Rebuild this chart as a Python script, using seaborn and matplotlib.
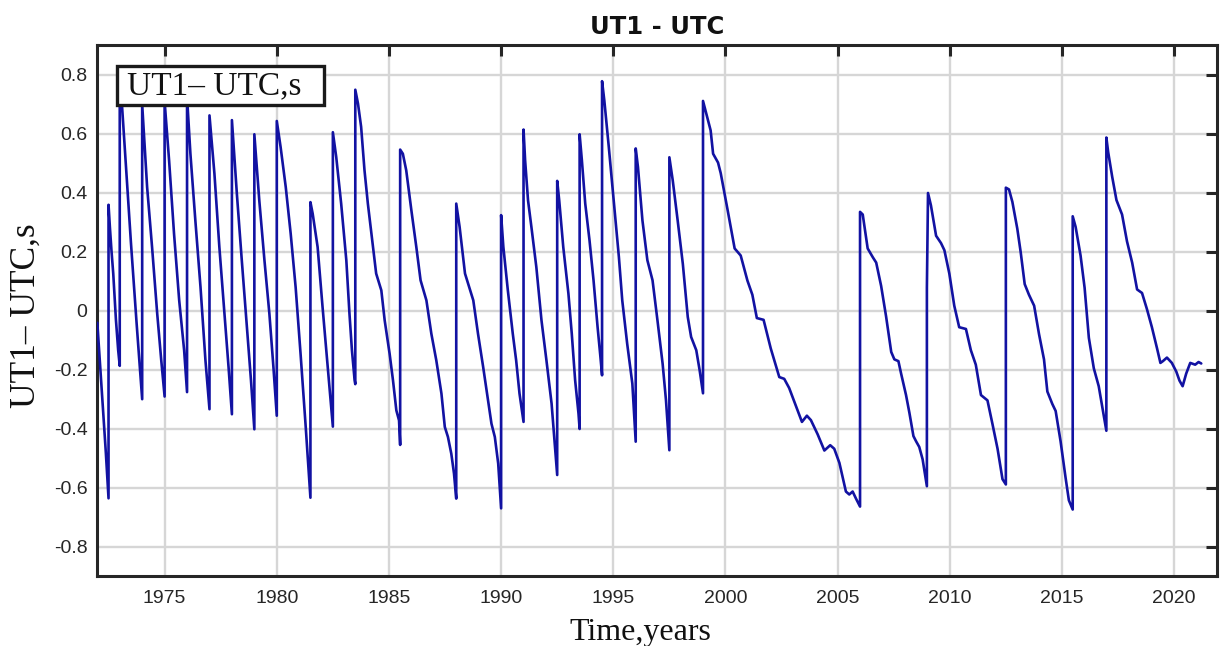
import matplotlib
matplotlib.use("Agg")
import matplotlib.pyplot as plt
from matplotlib.patches import Rectangle
import pandas as pd
import seaborn as sns

# ---- data (decimal year, UT1-UTC in seconds) ----
years = [
    1972.00, 1972.12, 1972.25, 1972.38, 1972.50,
    1972.50, 1972.56, 1972.63, 1972.71, 1972.83, 1972.93, 1973.00,
    1973.00, 1973.25, 1973.50, 1973.75, 1974.00,
    1974.00, 1974.22, 1974.44, 1974.67, 1974.85, 1975.00,
    1975.00, 1975.20, 1975.42, 1975.65, 1975.87, 1976.00,
    1976.00, 1976.15, 1976.37, 1976.60, 1976.82, 1977.00,
    1977.00, 1977.22, 1977.44, 1977.67, 1977.85, 1978.00,
    1978.00, 1978.22, 1978.44, 1978.67, 1978.85, 1979.00,
    1979.00, 1979.22, 1979.45, 1979.67, 1979.85, 1980.00,
    1980.00, 1980.17, 1980.40, 1980.62, 1980.84, 1981.06, 1981.29, 1981.50,
    1981.50, 1981.60, 1981.82, 1982.04, 1982.27, 1982.50,
    1982.50, 1982.65, 1982.87, 1983.10, 1983.24, 1983.35, 1983.47, 1983.50,
    1983.50, 1983.62, 1983.76, 1983.91, 1984.06, 1984.29, 1984.43, 1984.66,
    1984.81, 1985.03, 1985.18, 1985.33, 1985.45, 1985.50,
    1985.50, 1985.62, 1985.77, 1986.00, 1986.22, 1986.41, 1986.67, 1986.89,
    1987.11, 1987.34, 1987.49, 1987.63, 1987.78, 1987.90, 1988.00,
    1988.00, 1988.15, 1988.39, 1988.53, 1988.76, 1988.97, 1989.20, 1989.42,
    1989.57, 1989.72, 1989.87, 1989.94, 1990.00,
    1990.00, 1990.10, 1990.30, 1990.52, 1990.67, 1990.82, 1991.00,
    1991.00, 1991.07, 1991.20, 1991.35, 1991.57, 1991.80, 1992.02, 1992.25,
    1992.40, 1992.50,
    1992.50, 1992.59, 1992.77, 1993.00, 1993.15, 1993.30, 1993.45, 1993.50,
    1993.50, 1993.60, 1993.75, 1993.94, 1994.12, 1994.30, 1994.42, 1994.50,
    1994.50, 1994.60, 1994.80, 1995.02, 1995.25, 1995.40, 1995.62, 1995.85,
    1995.93, 1996.00,
    1996.00, 1996.10, 1996.30, 1996.52, 1996.75, 1996.97, 1997.20, 1997.35,
    1997.50,
    1997.50, 1997.65, 1997.87, 1998.10, 1998.32, 1998.47, 1998.70, 1998.85,
    1999.00,
    1999.00, 1999.34, 1999.45, 1999.67, 1999.79, 2000.09, 2000.41, 2000.68,
    2000.98, 2001.20, 2001.40, 2001.70, 2002.02, 2002.40, 2002.62, 2002.84,
    2003.14, 2003.41, 2003.63, 2003.81, 2004.11, 2004.41, 2004.67, 2004.85,
    2005.08, 2005.37, 2005.52, 2005.67, 2005.82, 2006.00,
    2006.00, 2006.12, 2006.34, 2006.57, 2006.72, 2006.94, 2007.16, 2007.39,
    2007.53, 2007.71, 2007.83, 2008.05, 2008.20, 2008.38, 2008.50, 2008.64,
    2008.79, 2008.94, 2008.98,
    2008.98, 2009.03, 2009.16, 2009.39, 2009.61, 2009.76, 2009.98, 2010.20,
    2010.42, 2010.72, 2010.94, 2011.16, 2011.39, 2011.68, 2011.90, 2012.13,
    2012.35, 2012.50,
    2012.50, 2012.64, 2012.79, 2013.01, 2013.16, 2013.34, 2013.53, 2013.76,
    2013.98, 2014.20, 2014.35, 2014.57, 2014.72, 2014.94, 2015.16, 2015.31,
    2015.48,
    2015.48, 2015.61, 2015.83, 2016.01, 2016.20, 2016.42, 2016.64, 2016.84,
    2016.98,
    2016.98, 2017.06, 2017.24, 2017.43, 2017.68, 2017.90, 2018.13, 2018.35,
    2018.57, 2018.79, 2019.01, 2019.24, 2019.39, 2019.50, 2019.68, 2019.90,
    2020.10, 2020.24, 2020.38, 2020.54, 2020.72, 2020.94, 2021.09, 2021.21,
]

ut1_utc = [
    -0.040, -0.180, -0.330, -0.480, -0.635,
    0.360, 0.285, 0.206, 0.127, -0.030, -0.133, -0.186,
    0.814, 0.520, 0.230, -0.040, -0.299,
    0.700, 0.420, 0.217, -0.009, -0.167, -0.290,
    0.710, 0.510, 0.262, 0.036, -0.133, -0.275,
    0.725, 0.533, 0.307, 0.081, -0.167, -0.333,
    0.663, 0.466, 0.217, -0.009, -0.190, -0.350,
    0.647, 0.398, 0.172, -0.054, -0.235, -0.401,
    0.599, 0.375, 0.172, -0.009, -0.190, -0.355,
    0.644, 0.556, 0.420, 0.262, 0.081, -0.145, -0.393, -0.633,
    0.369, 0.330, 0.217, 0.014, -0.190, -0.392,
    0.606, 0.522, 0.364, 0.172, -0.009, -0.133, -0.235, -0.248,
    0.750, 0.703, 0.624, 0.477, 0.364, 0.217, 0.127, 0.070,
    -0.032, -0.145, -0.235, -0.337, -0.371, -0.454,
    0.547, 0.533, 0.477, 0.341, 0.217, 0.104, 0.036, -0.077,
    -0.167, -0.280, -0.393, -0.427, -0.484, -0.551, -0.636,
    0.364, 0.285, 0.127, 0.093, 0.036, -0.077, -0.190, -0.303,
    -0.382, -0.427, -0.517, -0.597, -0.669,
    0.325, 0.217, 0.070, -0.077, -0.167, -0.280, -0.376,
    0.615, 0.511, 0.375, 0.285, 0.149, -0.032, -0.167, -0.314,
    -0.461, -0.556,
    0.441, 0.375, 0.217, 0.059, -0.077, -0.235, -0.348, -0.400,
    0.599, 0.511, 0.364, 0.240, 0.104, -0.054, -0.150, -0.218,
    0.779, 0.714, 0.556, 0.375, 0.183, 0.036, -0.111, -0.246,
    -0.350, -0.443,
    0.551, 0.488, 0.307, 0.172, 0.104, -0.032, -0.179, -0.303,
    -0.472,
    0.521, 0.443, 0.307, 0.160, -0.020, -0.088, -0.133, -0.201,
    -0.279,
    0.712, 0.612, 0.533, 0.503, 0.467, 0.345, 0.212, 0.188,
    0.103, 0.055, -0.024, -0.030, -0.127, -0.224, -0.230, -0.261,
    -0.321, -0.376, -0.355, -0.370, -0.418, -0.473, -0.455, -0.467,
    -0.515, -0.612, -0.622, -0.612, -0.636, -0.663,
    0.336, 0.327, 0.212, 0.182, 0.164, 0.085, -0.018, -0.139,
    -0.164, -0.170, -0.212, -0.285, -0.345, -0.424, -0.442, -0.461,
    -0.503, -0.576, -0.594,
    0.079, 0.400, 0.358, 0.255, 0.230, 0.206, 0.127, 0.018,
    -0.055, -0.061, -0.133, -0.182, -0.285, -0.303, -0.382, -0.467,
    -0.570, -0.588,
    0.418, 0.412, 0.370, 0.279, 0.200, 0.091, 0.055, 0.018,
    -0.079, -0.164, -0.273, -0.315, -0.339, -0.442, -0.564, -0.642,
    -0.673,
    0.321, 0.285, 0.188, 0.079, -0.091, -0.194, -0.255, -0.345,
    -0.406,
    0.588, 0.539, 0.455, 0.376, 0.327, 0.236, 0.164, 0.073,
    0.061, 0.006, -0.055, -0.127, -0.176, -0.170, -0.158, -0.176,
    -0.206, -0.236, -0.255, -0.212, -0.176, -0.182, -0.173, -0.178,
]

x_ticks = [1975, 1980, 1985, 1990, 1995, 2000, 2005, 2010, 2015, 2020]
y_ticks = [-0.8, -0.6, -0.4, -0.2, 0.0, 0.2, 0.4, 0.6, 0.8]
y_tick_labels = ["-0.8", "-0.6", "-0.4", "-0.2", "0", "0.2", "0.4", "0.6", "0.8"]
title_text = "UT1 - UTC"
x_label = "Time,years"
y_label = "UT1\u2013 UTC,s"
legend_text = "UT1\u2013 UTC,s"

# ---- drawing ----
sns.set_style("white")
plt.rcParams["font.family"] = ["Liberation Sans", "DejaVu Sans"]

df = pd.DataFrame({"year": years, "value": ut1_utc})

fig = plt.figure(figsize=(12.21, 6.46), dpi=100)
ax = fig.add_axes([0.0797, 0.1076, 0.9168, 0.8220])

sns.lineplot(data=df, x="year", y="value", ax=ax, sort=False, estimator=None,
             color="#1212a2", linewidth=1.9, zorder=3)

ax.set_xlim(1972, 2021.9)
ax.set_ylim(-0.9, 0.9)
ax.set_xticks(x_ticks)
ax.set_xticklabels([str(v) for v in x_ticks])
ax.set_yticks(y_ticks)
ax.set_yticklabels(y_tick_labels)

ax.grid(True, color="#d6d6d6", linewidth=1.7)
ax.set_axisbelow(True)

for sp in ax.spines.values():
    sp.set_visible(True)
    sp.set_color("#262626")
    sp.set_linewidth(2.2)

ax.tick_params(axis="both", which="major", direction="in", length=8, width=2.2,
               color="#262626", labelcolor="#262626", labelsize=14,
               top=True, right=True)
ax.tick_params(axis="x", pad=10)
ax.tick_params(axis="y", pad=7)

serif = ["Liberation Serif", "DejaVu Serif"]
ax.set_title(title_text, fontsize=17.5, fontweight="bold", color="#111111",
             family=["DejaVu Sans"], pad=8.5)
ax.set_xlabel(x_label, fontsize=23, family=serif, color="#111111", va="baseline")
ax.xaxis.set_label_coords(0.485, -0.1196)
ax.set_ylabel(y_label, fontsize=25.5, family=serif, color="#111111", va="baseline")
ax.yaxis.set_label_coords(-0.0557, 0.4906)

# boxed label in upper-left corner
ax.add_patch(Rectangle((0.0176, 0.888), 0.1849, 0.0734, transform=ax.transAxes,
                       facecolor="white", edgecolor="#1a1a1a", linewidth=2.4,
                       zorder=5))
ax.text(0.0268, 0.9087, legend_text, transform=ax.transAxes, fontsize=24,
        family=serif, color="#111111", ha="left", va="baseline", zorder=6)

fig.savefig("out.png", dpi=100)
